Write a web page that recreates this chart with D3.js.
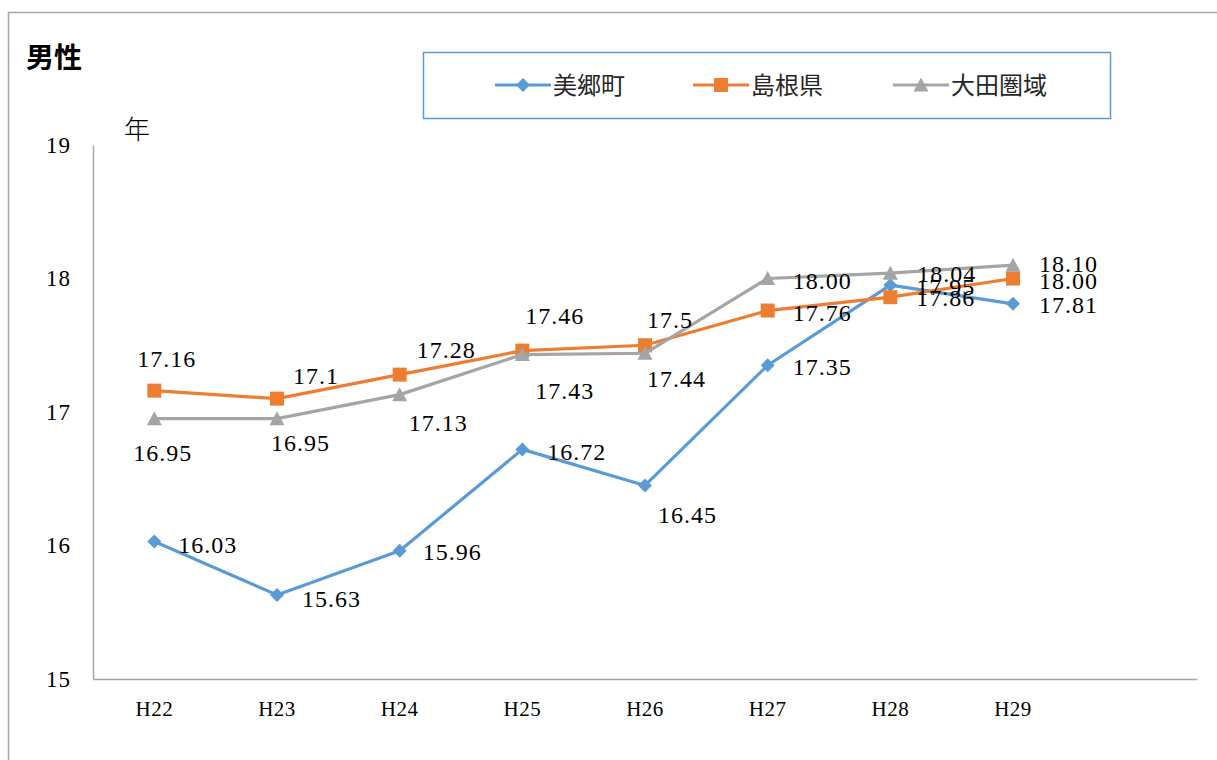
<!DOCTYPE html>
<html>
<head>
<meta charset="utf-8">
<script src="https://cdn.jsdelivr.net/npm/d3@7"></script>
<style>
  html, body { margin: 0; padding: 0; background: #fff; }
  svg { display: block; }
</style>
</head>
<body>
<svg id="chart" width="1217" height="760"></svg>
<script>
// ---- data ----
const categories = ["H22", "H23", "H24", "H25", "H26", "H27", "H28", "H29"];
const slots = categories.concat(["H30"]); // axis keeps one empty slot at the right
const misato = [16.03, 15.63, 15.96, 16.72, 16.45, 17.35, 17.95, 17.81];
const shimane = [17.16, 17.1, 17.28, 17.46, 17.5, 17.76, 17.86, 18.00];
const ohda = [16.95, 16.95, 17.13, 17.43, 17.44, 18.00, 18.04, 18.10];
const misatoLabels = ["16.03", "15.63", "15.96", "16.72", "16.45", "17.35", "17.95", "17.81"];
const shimaneLabels = ["17.16", "17.1", "17.28", "17.46", "17.5", "17.76", "17.86", "18.00"];
const ohdaLabels = ["16.95", "16.95", "17.13", "17.43", "17.44", "18.00", "18.04", "18.10"];
const yTicks = [15, 16, 17, 18, 19];
const seriesNames = ["美郷町", "島根県", "大田圏域"];

// ---- label placement (offset of label's left edge / vertical centre from its point) ----
const misatoOffsets = [[24, 3], [25, 4], [23, 1], [25, 2], [13, 29], [25, 2], [26, 2], [26, 1]];
const shimaneOffsets = [[-17, -32], [16, -23], [17, -25], [3, -35], [2, -25], [25, 2], [26, 1], [26, 2]];
const ohdaOffsets = [[-21, 34], [-6, 24], [9, 28], [13, 36], [2, 26], [25, 2], [27, 1], [26, -1]];

const series = [
  { name: seriesNames[0], values: misato, labels: misatoLabels, offsets: misatoOffsets, color: "#5b9bd5", marker: "diamond" },
  { name: seriesNames[1], values: shimane, labels: shimaneLabels, offsets: shimaneOffsets, color: "#ed7d31", marker: "square" },
  { name: seriesNames[2], values: ohda, labels: ohdaLabels, offsets: ohdaOffsets, color: "#a5a5a5", marker: "triangle" }
];

const svg = d3.select("#chart");
const serif = "'Liberation Serif', 'DejaVu Serif', serif";
const sans = "'Noto Sans CJK JP', 'Noto Sans', sans-serif";

// outer frame
svg.append("rect")
  .attr("x", 8.5).attr("y", 12.5).attr("width", 1400).attr("height", 900)
  .attr("fill", "none").attr("stroke", "#a6a6a6").attr("stroke-width", 1.5);

// title
svg.append("text")
  .attr("x", 26).attr("y", 68)
  .attr("font-family", sans).attr("font-weight", "bold").attr("font-size", 28)
  .attr("fill", "#000").text("男性");

// plot area
const plotLeft = 93, plotRight = 1197, plotTop = 145, plotBottom = 679;
const x = d3.scaleBand().domain(slots).range([plotLeft, plotRight]);
const y = d3.scaleLinear().domain([15, 19]).range([plotBottom, plotTop]);
const cx = (i) => x(categories[i]) + x.bandwidth() / 2;

// axes
const yAxis = svg.append("g").attr("transform", `translate(${plotLeft},0)`)
  .call(d3.axisLeft(y).tickValues(yTicks).tickSize(0).tickPadding(22).tickFormat(d3.format("d")));
const xAxis = svg.append("g").attr("transform", `translate(0,${plotBottom})`)
  .call(d3.axisBottom(x).tickValues(categories).tickSize(0).tickPadding(22));
[yAxis, xAxis].forEach(g => {
  g.select(".domain").attr("stroke", "#a6a6a6").attr("stroke-width", 1.5);
  g.selectAll("text")
    .attr("font-family", serif).attr("font-size", 23).attr("letter-spacing", 1)
    .attr("fill", "#000");
});
xAxis.selectAll("text").attr("font-size", 21).attr("letter-spacing", 0.5);

// unit label
svg.append("text")
  .attr("x", 124).attr("y", 139)
  .attr("font-family", sans).attr("font-size", 26).attr("font-weight", 300)
  .attr("fill", "#000").text("年");

// marker paths
function markerPath(type, size) {
  const h = size / 2;
  if (type === "diamond") return `M0,${-h}L${h},0L0,${h}L${-h},0Z`;
  if (type === "square") return `M${-h},${-h}H${h}V${h}H${-h}Z`;
  return `M0,${-h - 1}L${h + 1},${h}L${-h - 1},${h}Z`;
}
const markerSize = { diamond: 14, square: 14, triangle: 13 };

const line = d3.line().x((d, i) => cx(i)).y(d => y(d));

// lines and markers
series.forEach(s => {
  const g = svg.append("g");
  g.append("path").datum(s.values)
    .attr("d", line).attr("fill", "none")
    .attr("stroke", s.color).attr("stroke-width", 3.2).attr("stroke-linejoin", "round");
  g.selectAll("path.mk").data(s.values).join("path")
    .attr("class", "mk")
    .attr("transform", (d, i) => `translate(${cx(i)},${y(d)})`)
    .attr("d", markerPath(s.marker, markerSize[s.marker]))
    .attr("fill", s.color);
});

// data labels
series.forEach(s => {
  svg.append("g").selectAll("text").data(s.values).join("text")
    .attr("x", (d, i) => cx(i) + s.offsets[i][0])
    .attr("y", (d, i) => y(d) + s.offsets[i][1])
    .attr("dy", "0.34em")
    .attr("font-family", serif).attr("font-size", 24).attr("letter-spacing", 1)
    .attr("fill", "#000")
    .text((d, i) => s.labels[i]);
});

// legend
const legend = svg.append("g");
legend.append("rect")
  .attr("x", 423.5).attr("y", 52.5).attr("width", 687).attr("height", 66)
  .attr("fill", "#fff").attr("stroke", "#5b9bd5").attr("stroke-width", 1.5);
const legendX = [495, 693, 893];
series.forEach((s, k) => {
  const lg = legend.append("g").attr("transform", `translate(${legendX[k]},85)`);
  lg.append("line").attr("x1", 0).attr("x2", 56).attr("y1", 0).attr("y2", 0)
    .attr("stroke", s.color).attr("stroke-width", 3.2);
  lg.append("path").attr("transform", "translate(28,0)")
    .attr("d", markerPath(s.marker, markerSize[s.marker])).attr("fill", s.color);
  lg.append("text").attr("x", 58).attr("y", 0).attr("dy", "0.36em")
    .attr("font-family", sans).attr("font-size", 24)
    .attr("fill", "#262626").text(s.name);
});
</script>
</body>
</html>
